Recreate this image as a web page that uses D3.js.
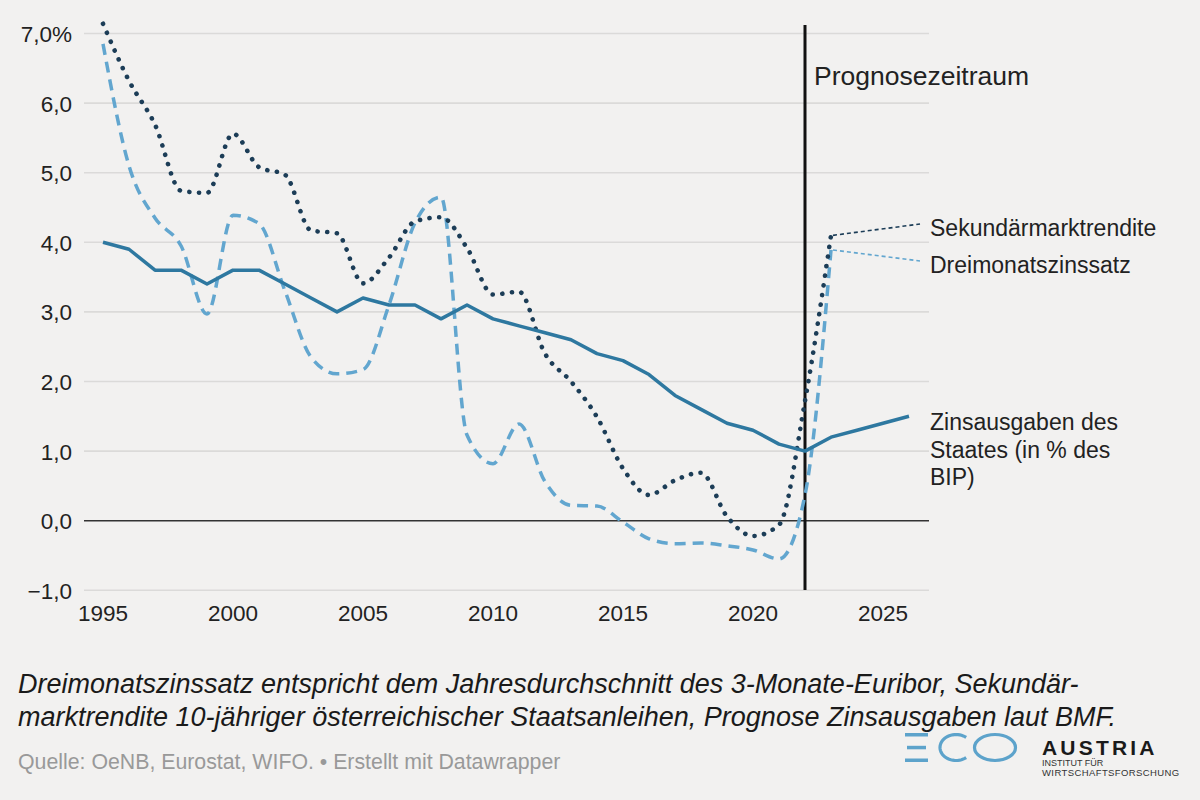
<!DOCTYPE html>
<html>
<head>
<meta charset="utf-8">
<script src="https://cdn.jsdelivr.net/npm/d3@7"></script>
<style>
  html, body { margin: 0; padding: 0; background: #f2f1f0; }
  svg { display: block; font-family: "Liberation Sans", Arial, Helvetica, sans-serif; }
</style>
</head>
<body>
<svg id="chart" width="1200" height="800"></svg>
<script>
// ---- data ----
const years = d3.range(1995, 2027);
const zinsausgaben = [4.0, 3.9, 3.6, 3.6, 3.4, 3.6, 3.6, 3.4, 3.2, 3.0, 3.2, 3.1, 3.1, 2.9, 3.1, 2.9, 2.8, 2.7, 2.6, 2.4, 2.3, 2.1, 1.8, 1.6, 1.4, 1.3, 1.1, 1.0, 1.2, 1.3, 1.4, 1.5];
const dreimonat = [6.85, 5.1, 4.35, 3.95, 2.97, 4.39, 4.27, 3.3, 2.35, 2.11, 2.17, 3.1, 4.28, 4.65, 1.23, 0.82, 1.39, 0.56, 0.22, 0.21, -0.02, -0.26, -0.33, -0.32, -0.36, -0.42, -0.55, 0.37, 3.89];
const sekundaer = [7.14, 6.32, 5.69, 4.74, 4.71, 5.56, 5.08, 4.97, 4.17, 4.13, 3.41, 3.78, 4.3, 4.36, 3.92, 3.25, 3.29, 2.4, 2.0, 1.49, 0.75, 0.37, 0.58, 0.69, 0.06, -0.22, -0.06, 1.72, 4.1];
const yTicks = [-1, 0, 1, 2, 3, 4, 5, 6, 7];
const xTicks = [1995, 2000, 2005, 2010, 2015, 2020, 2025];
const forecastYear = 2022;
const seriesLabels = ["Sekundärmarktrendite", "Dreimonatszinssatz"];
const zinsLabelLines = ["Zinsausgaben des", "Staates (in % des", "BIP)"];
const forecastLabel = "Prognosezeitraum";
const noteLines = ["Dreimonatszinssatz entspricht dem Jahresdurchschnitt des 3-Monate-Euribor, Sekundär-",
                   "marktrendite 10-jähriger österreichischer Staatsanleihen, Prognose Zinsausgaben laut BMF."];
const sourceText = "Quelle: OeNB, Eurostat, WIFO. • Erstellt mit Datawrapper";

// ---- colours ----
const cSolid = "#2e78a0";
const cDash = "#62a6cf";
const cDot = "#1c3d57";

const svg = d3.select("#chart");
svg.append("rect").attr("width", 1200).attr("height", 800).attr("fill", "#f2f1f0");

const x = d3.scaleLinear().domain([1995, 2026]).range([103, 909]);
const y = d3.scaleLinear().domain([-1, 7]).range([590.3, 33.5]);
const gridX0 = 84, gridX1 = 929;

// grid lines
svg.append("g").selectAll("line").data(yTicks.filter(d => d !== 0)).join("line")
  .attr("x1", gridX0).attr("x2", gridX1)
  .attr("y1", d => y(d)).attr("y2", d => y(d))
  .attr("stroke", "#dbdad9").attr("stroke-width", 1.6);

// y labels
const fmt = d => {
  const s = d3.format(".1f")(Math.abs(d)).replace(".", ",");
  return (d < 0 ? "\u2212" : "") + s + (d === 7 ? "%" : "");
};
svg.append("g").selectAll("text").data(yTicks).join("text")
  .attr("x", 72).attr("y", d => y(d) + 8.5)
  .attr("text-anchor", "end").attr("font-size", 22.5).attr("fill", "#222")
  .text(fmt);

// x labels
svg.append("g").selectAll("text").data(xTicks).join("text")
  .attr("x", d => x(d)).attr("y", 621)
  .attr("text-anchor", "middle").attr("font-size", 22.5).attr("fill", "#222")
  .text(d => d);

// zero line
svg.append("line").attr("x1", gridX0).attr("x2", gridX1)
  .attr("y1", y(0)).attr("y2", y(0)).attr("stroke", "#333").attr("stroke-width", 1.6);

// forecast line
svg.append("line").attr("x1", x(forecastYear)).attr("x2", x(forecastYear))
  .attr("y1", 25).attr("y2", 590).attr("stroke", "#111").attr("stroke-width", 3);
svg.append("text").attr("x", x(forecastYear) + 9).attr("y", 85)
  .attr("font-size", 26.5).attr("fill", "#222").text(forecastLabel);

// lines
const lineGen = (vals, curve) => d3.line()
  .x((d, i) => x(years[i])).y(d => y(d)).curve(curve)(vals);

svg.append("path").attr("d", lineGen(dreimonat, d3.curveMonotoneX))
  .attr("fill", "none").attr("stroke", cDash).attr("stroke-width", 3.5)
  .attr("stroke-dasharray", "11 7");

svg.append("path").attr("d", lineGen(sekundaer, d3.curveMonotoneX))
  .attr("fill", "none").attr("stroke", cDot).attr("stroke-width", 4.6)
  .attr("stroke-linecap", "round").attr("stroke-dasharray", "0.1 9.6");

svg.append("path").attr("d", lineGen(zinsausgaben, d3.curveLinear))
  .attr("fill", "none").attr("stroke", cSolid).attr("stroke-width", 3.5)
  .attr("stroke-linejoin", "round");

// leader lines and labels
const lastIdx = sekundaer.length - 1;
const labelX = 930;
const leaders = [
  { v: sekundaer[lastIdx], ty: 224, color: cDot, text: seriesLabels[0], textY: 236 },
  { v: dreimonat[lastIdx], ty: 261, color: cDash, text: seriesLabels[1], textY: 273 }
];
leaders.forEach(l => {
  svg.append("line").attr("x1", x(years[lastIdx]) + 2).attr("y1", y(l.v))
    .attr("x2", 920).attr("y2", l.ty)
    .attr("stroke", l.color).attr("stroke-width", 1.6).attr("stroke-dasharray", "4 3");
  svg.append("text").attr("x", labelX).attr("y", l.textY)
    .attr("font-size", 23).attr("fill", "#222").text(l.text);
});

svg.append("text").attr("x", labelX).attr("y", 430)
  .attr("font-size", 23).attr("fill", "#222")
  .selectAll("tspan").data(zinsLabelLines).join("tspan")
  .attr("x", labelX).attr("dy", (d, i) => i === 0 ? 0 : 27.5).text(d => d);

// footnote
svg.append("g").selectAll("text").data(noteLines).join("text")
  .attr("x", 18).attr("y", (d, i) => 693 + i * 33)
  .attr("font-size", 27).attr("font-style", "italic").attr("fill", "#1a1a1a")
  .text(d => d);

svg.append("text").attr("x", 18).attr("y", 769)
  .attr("font-size", 21.3).attr("fill", "#999").text(sourceText);

// logo
const logo = svg.append("g").attr("transform", "translate(905,733)");
const lc = "#5da3cb";
logo.append("rect").attr("x", 0).attr("y", 0).attr("width", 23).attr("height", 3.5).attr("fill", lc);
logo.append("rect").attr("x", 2).attr("y", 12.8).attr("width", 19).attr("height", 3.5).attr("fill", lc);
logo.append("rect").attr("x", 0).attr("y", 25.5).attr("width", 23).attr("height", 3.5).attr("fill", lc);
// C as elliptical arc, open on the right
const cx = 51, cy = 14.5, crx = 16, cry = 13;
const a0 = 0.28 * Math.PI, a1 = 2 * Math.PI - 0.28 * Math.PI;
const cPts = d3.range(a0, a1 + 0.001, (a1 - a0) / 40).map(a => [cx + crx * Math.cos(a), cy - cry * Math.sin(a)]);
logo.append("path").attr("d", d3.line()(cPts)).attr("fill", "none").attr("stroke", lc).attr("stroke-width", 3.2);
logo.append("ellipse").attr("cx", 90).attr("cy", 14.5).attr("rx", 20.5).attr("ry", 13)
  .attr("fill", "none").attr("stroke", lc).attr("stroke-width", 3.2);
svg.append("text").attr("x", 1042).attr("y", 755).attr("font-size", 21).attr("font-weight", "bold")
  .attr("letter-spacing", 3.2).attr("fill", "#1a1a1a").text("AUSTRIA");
svg.append("text").attr("x", 1042).attr("y", 766).attr("font-size", 9).attr("fill", "#333").text("INSTITUT FÜR");
svg.append("text").attr("x", 1042).attr("y", 776).attr("font-size", 9.5).attr("letter-spacing", 0.4).attr("fill", "#333").text("WIRTSCHAFTSFORSCHUNG");
</script>
</body>
</html>
